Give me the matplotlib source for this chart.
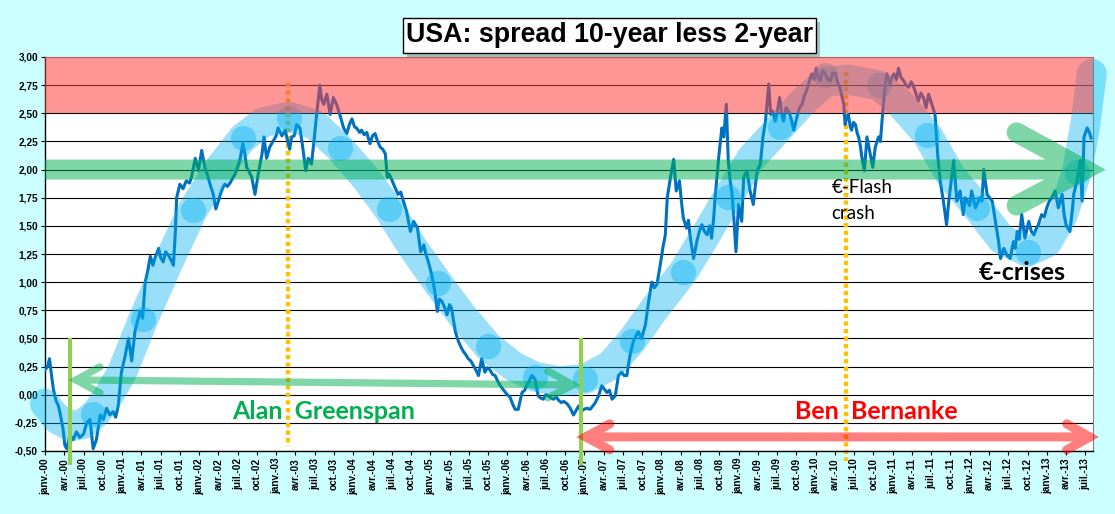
import matplotlib
matplotlib.use('Agg')
import matplotlib.pyplot as plt
from matplotlib.path import Path
from matplotlib.patches import PathPatch, Rectangle
from matplotlib.transforms import Bbox, TransformedBbox

# ---------------- data (x = months since janv. 2000) ----------------
spread_month = [
    0.0, 0.4, 0.7, 1.0, 1.3, 1.7, 2.1, 2.4, 2.8, 3.1, 3.4, 3.9, 4.4, 4.9, 5.4, 6.0, 6.5, 7.0, 7.5, 8.0,
    8.6, 9.1, 9.6, 10.1, 10.6, 11.0, 11.4, 11.9, 12.5, 13.0, 13.5, 14.0, 14.8, 15.2, 15.6, 16.0, 16.4,
    16.8, 17.1, 17.7, 18.0, 18.4, 18.8, 19.2, 19.6, 20.0, 20.3, 20.5, 21.0, 21.5, 22.0, 22.5, 22.8,
    23.4, 23.9, 24.4, 24.9, 25.3, 25.7, 26.2, 26.6, 27.0, 27.3, 27.7, 28.0, 28.4, 28.8, 29.2, 29.6,
    30.0, 30.4, 30.8, 31.1, 31.4, 31.8, 32.2, 32.7, 33.2, 33.8, 34.1, 34.5, 35.0, 35.6, 36.0, 36.3,
    36.9, 37.4, 38.1, 38.4, 38.8, 39.2, 39.7, 40.2, 40.6, 41.0, 41.5, 41.9, 42.3, 42.8, 43.1, 43.4,
    43.9, 44.4, 44.9, 45.4, 45.9, 46.5, 47.0, 47.4, 47.8, 48.2, 48.5, 49.0, 49.3, 49.7, 50.1, 50.6,
    51.0, 51.4, 51.8, 52.2, 52.6, 53.0, 53.3, 53.6, 54.0, 54.5, 55.0, 55.4, 55.8, 56.3, 56.9, 57.4,
    58.0, 58.5, 59.0, 59.3, 59.7, 60.2, 60.7, 61.1, 61.4, 61.8, 62.2, 62.6, 63.0, 63.3, 63.9, 64.4,
    64.8, 65.2, 65.6, 65.9, 66.3, 66.7, 67.1, 67.5, 68.0, 68.5, 68.9, 69.3, 69.7, 70.1, 70.5, 70.9,
    71.3, 71.7, 72.0, 72.4, 72.8, 73.2, 73.7, 74.0, 74.3, 74.7, 75.0, 75.4, 75.8, 76.3, 76.8, 77.2,
    77.6, 78.0, 78.4, 78.8, 79.2, 79.6, 80.0, 80.4, 80.8, 81.3, 81.8, 82.3, 82.7, 83.1, 83.5, 83.9,
    84.4, 84.9, 85.3, 85.7, 86.2, 86.7, 87.1, 87.5, 87.9, 88.3, 88.8, 89.3, 89.8, 90.2, 90.6, 91.1,
    91.6, 92.0, 92.4, 92.9, 93.5, 94.0, 94.5, 94.9, 95.3, 95.8, 96.2, 96.6, 96.9, 97.4, 97.9, 98.3,
    98.8, 99.1, 99.4, 99.9, 100.2, 100.5, 101.0, 101.5, 101.9, 102.3, 102.7, 103.1, 103.5, 103.8,
    104.1, 104.4, 104.9, 105.4, 105.7, 106.1, 106.4, 106.7, 107.0, 107.3, 107.6, 108.0, 108.5, 108.8,
    109.3, 109.8, 110.3, 110.6, 110.9, 111.4, 111.8, 112.2, 112.7, 113.0, 113.3, 113.7, 114.0, 114.4,
    114.7, 115.0, 115.4, 115.8, 116.2, 116.6, 116.9, 117.2, 117.5, 117.9, 118.2, 118.6, 119.0, 119.4,
    119.8, 120.1, 120.4, 120.7, 121.1, 121.5, 121.9, 122.3, 122.7, 123.1, 123.5, 123.8, 124.1, 124.4,
    124.6, 124.8, 125.1, 125.4, 125.6, 125.9, 126.2, 126.5, 126.7, 127.0, 127.2, 127.6, 128.0, 128.3,
    128.5, 128.9, 129.3, 129.8, 130.1, 130.3, 130.7, 131.1, 131.6, 131.9, 132.2, 132.6, 132.9, 133.3,
    133.7, 134.1, 134.5, 134.9, 135.3, 135.7, 136.0, 136.4, 136.8, 137.2, 137.6, 138.1, 138.6, 139.0,
    139.4, 139.9, 140.4, 140.7, 141.0, 141.5, 142.0, 142.5, 143.0, 143.3, 143.6, 144.0, 144.3, 144.9,
    145.2, 145.6, 145.9, 146.2, 146.7, 147.1, 147.5, 148.0, 148.5, 148.8, 149.3, 149.8, 150.3, 150.8,
    151.1, 151.4, 151.7, 152.1, 152.6, 153.2, 153.6, 154.0, 154.4, 154.7, 155.2, 155.6, 156.0, 156.4,
    156.8, 157.3, 157.8, 158.1, 158.4, 158.7, 159.0, 159.3, 159.6, 160.0, 160.2, 160.7, 161.2, 161.5,
    161.8, 162.3, 162.7, 162.9,
]
spread_value = [
    0.22, 0.25, 0.32, 0.18, 0.05, -0.05, -0.10, -0.18, -0.30, -0.45, -0.48, -0.36, -0.40, -0.33, -0.38, -0.35, -0.25, -0.22, -0.48, -0.40,
    -0.18, -0.22, -0.12, -0.18, -0.15, -0.20, -0.10, 0.20, 0.35, 0.50, 0.30, 0.56, 0.74, 0.68, 1.00, 1.10, 1.23,
    1.15, 1.21, 1.30, 1.22, 1.18, 1.27, 1.24, 1.20, 1.15, 1.45, 1.75, 1.87, 1.83, 1.90, 1.88, 1.93,
    2.10, 1.99, 2.17, 2.02, 1.95, 1.87, 1.78, 1.65, 1.72, 1.78, 1.84, 1.87, 1.85, 1.88, 1.92, 1.96,
    2.02, 2.10, 2.23, 2.15, 2.02, 1.98, 1.93, 1.78, 1.96, 2.14, 2.29, 2.10, 2.20, 2.26, 2.30, 2.37,
    2.30, 2.35, 2.18, 2.29, 2.30, 2.40, 2.37, 2.17, 1.99, 2.10, 2.05, 2.26, 2.49, 2.75, 2.62, 2.58,
    2.67, 2.49, 2.64, 2.58, 2.49, 2.37, 2.32, 2.40, 2.45, 2.38, 2.37, 2.33, 2.35, 2.31, 2.33, 2.23,
    2.30, 2.32, 2.25, 2.20, 2.18, 2.14, 1.93, 1.96, 1.91, 1.84, 1.78, 1.80, 1.72, 1.63, 1.45, 1.54,
    1.48, 1.27, 1.33, 1.25, 1.18, 1.07, 0.92, 0.74, 0.85, 0.83, 0.78, 0.71, 0.80, 0.77, 0.56, 0.47,
    0.42, 0.38, 0.35, 0.32, 0.30, 0.26, 0.22, 0.17, 0.32, 0.20, 0.24, 0.22, 0.18, 0.17, 0.12, 0.08,
    0.05, 0.02, 0.00, -0.02, -0.08, -0.13, -0.13, -0.05, 0.02, 0.04, 0.08, 0.12, 0.17, 0.14, -0.01, -0.03,
    -0.04, 0.00, -0.01, -0.03, -0.04, -0.02, -0.05, -0.07, -0.06, -0.08, -0.12, -0.18, -0.14, -0.10, -0.15, -0.13,
    -0.12, -0.13, -0.10, -0.07, -0.01, 0.08, 0.05, 0.02, 0.04, -0.04, -0.01, 0.17, 0.20, 0.17, 0.17, 0.35,
    0.47, 0.52, 0.56, 0.50, 0.62, 0.83, 1.00, 0.95, 0.98, 1.15, 1.30, 1.42, 1.75, 1.93, 2.09, 1.81,
    1.90, 1.72, 1.57, 1.48, 1.55, 1.39, 1.21, 1.36, 1.45, 1.51, 1.45, 1.42, 1.50, 1.39,
    1.55, 1.78, 2.10, 2.37, 2.29, 2.58, 2.08, 1.90, 1.78, 1.54, 1.27, 1.69, 1.54, 1.93,
    1.99, 1.81, 1.69, 1.85, 1.99, 2.05, 2.29, 2.43, 2.76, 2.49, 2.52, 2.43, 2.50, 2.64,
    2.50, 2.43, 2.55, 2.52, 2.45, 2.35, 2.42, 2.49, 2.55, 2.58, 2.65, 2.70, 2.78, 2.85,
    2.80, 2.90, 2.82, 2.79, 2.88, 2.85, 2.80, 2.79, 2.86, 2.85, 2.76, 2.73, 2.65, 2.58,
    2.40, 2.46, 2.49, 2.38, 2.35, 2.42, 2.40, 2.32, 2.29, 2.20, 2.11, 1.99, 2.29, 2.20,
    2.14, 2.02, 2.20, 2.29, 2.25, 2.40, 2.67, 2.85, 2.76, 2.82, 2.85, 2.80, 2.90, 2.82,
    2.79, 2.75, 2.73, 2.78, 2.73, 2.66, 2.61, 2.68, 2.64, 2.55, 2.67, 2.58, 2.49, 2.14,
    1.90, 1.72, 1.51, 1.70, 1.84, 2.08, 1.72, 1.81, 1.60, 1.75, 1.72, 1.68, 1.81, 1.66,
    1.70, 1.75, 1.72, 2.00, 1.78, 1.75, 1.72, 1.54, 1.36, 1.21, 1.30, 1.24, 1.21, 1.36,
    1.30, 1.45, 1.38, 1.60, 1.39, 1.54, 1.45, 1.42, 1.48, 1.51, 1.60, 1.58, 1.66, 1.72,
    1.75, 1.81, 1.66, 1.72, 1.78, 1.60, 1.51, 1.48, 1.45, 1.65, 1.78, 1.90, 2.08, 1.72,
    2.29, 2.37, 2.32, 2.28,
]

# hand-drawn "wave" trend band and its circles
wave_month = [0, 2, 4, 6, 8, 10, 12, 15.3, 19, 23, 27, 30.8, 34, 38, 42, 45.9, 50, 53.5, 57, 61.2,
              65, 69, 73, 76.3, 80, 84.1, 88, 91.4, 95, 99.4, 103, 106.4, 110, 114.5, 118, 121.5,
              125, 129.8, 133, 137.4, 141, 145.2, 149, 153, 156, 158.5, 160.7, 162, 163]
wave_value = [-0.08, -0.22, -0.28, -0.26, -0.16, 0.0, 0.2, 0.67, 1.15, 1.64, 2.0, 2.28, 2.42, 2.47,
              2.40, 2.19, 1.92, 1.65, 1.33, 0.99, 0.70, 0.43, 0.25, 0.16, 0.12, 0.14, 0.26, 0.48,
              0.77, 1.09, 1.43, 1.76, 2.10, 2.38, 2.60, 2.78, 2.80, 2.75, 2.60, 2.31, 1.95, 1.66,
              1.38, 1.27, 1.35, 1.60, 1.98, 2.40, 2.85]
circle_month = [7.5, 15.3, 23, 30.8, 38, 45.9, 53.5, 61.2, 69, 76.3, 84.1, 91.4, 99.4, 106.4,
                114.5, 121.5, 129.8, 137.4, 145.2, 153, 160.7]
circle_value = [-0.17, 0.67, 1.64, 2.28, 2.46, 2.19, 1.65, 0.99, 0.43, 0.16, 0.14, 0.48, 1.09, 1.76,
                2.38, 2.84, 2.75, 2.31, 1.66, 1.27, 1.98]

quarter_names = ['janv.', 'avr.', 'juil.', 'oct.']
years = list(range(2000, 2014))
tick_labels = [f"{q}-{y % 100:02d}" for y in years for q in quarter_names][:55]
tick_months = [3 * i for i in range(len(tick_labels))]
y_ticks = [-0.5 + 0.25 * i for i in range(15)]
y_labels = [f"{v:.2f}".replace('.', ',') for v in y_ticks]

title = "USA: spread 10-year less 2-year"

# ---------------- figure ----------------
W, H = 1115, 514
fig = plt.figure(figsize=(W / 100, H / 100), dpi=100, facecolor='#CCFFFF')
ax = fig.add_axes([45 / W, 1 - 451 / H, (1093 - 45) / W, (451 - 57) / H])
ax.set_facecolor('white')
ax.set_xlim(0, 163.2)
ax.set_ylim(-0.5, 3.0)

ax.set_yticks(y_ticks)
ax.set_yticklabels(y_labels)
ax.set_xticks(tick_months)
ax.set_xticklabels(tick_labels, rotation=90)
for lab in ax.get_xticklabels() + ax.get_yticklabels():
    lab.set_fontfamily('Liberation Sans')
    lab.set_fontweight('bold')
    lab.set_fontsize(7.2)
ax.tick_params(axis='both', direction='out', length=3, width=0.8, pad=2, colors='black')
ax.yaxis.grid(True, color='black', lw=0.8)
ax.set_axisbelow(True)
for s in ['left', 'bottom']:
    ax.spines[s].set_color('black')
    ax.spines[s].set_linewidth(1.0)
for s in ['top', 'right']:
    ax.spines[s].set_color('#808080')
    ax.spines[s].set_linewidth(0.8)

big_box = TransformedBbox(Bbox([[0, -0.3], [1.5, 1.3]]), ax.transAxes)


def stroke(segments, color, alpha, lw, z, cap='round'):
    verts, codes = [], []
    for seg in segments:
        verts += seg
        codes += [Path.MOVETO] + [Path.LINETO] * (len(seg) - 1)
    p = PathPatch(Path(verts, codes), fill=False, edgecolor=color, alpha=alpha, lw=lw,
                  capstyle=cap, joinstyle='miter', zorder=z)
    ax.add_patch(p)
    p.set_clip_path(None)
    p.set_clip_box(big_box)
    return p


# orange dotted vertical lines
for xm, y0, y1 in [(37.8, 2.77, -0.455), (124.7, 2.87, -0.59)]:
    ax.plot([xm, xm], [y0, y1], color='#FFC000', lw=3.2, dashes=(0.95, 0.75),
            solid_capstyle='butt', dash_capstyle='butt', zorder=2, clip_on=False)

# data line
ax.plot(spread_month, spread_value, color='#0070C0', lw=2.2, zorder=3, solid_joinstyle='round')

# wave band + circles
ax.plot(wave_month, wave_value, color='#00B0F0', alpha=0.4, lw=21.6,
        solid_capstyle='round', solid_joinstyle='round', zorder=4, clip_on=False)
ax.scatter(circle_month, circle_value, s=330, color='#00B0F0', alpha=0.4, lw=0, zorder=4.5)

# green horizontal band with open arrow head
stroke([[(0, 2.0), (161.9, 2.0)],
        [(151.3, 2.33), (161.9, 2.0), (151.3, 1.68)]],
       '#00B050', 0.5, 14.4, 5)

# red zone
ax.axhspan(2.5, 3.0, color=(1, 0.25, 0.25), alpha=0.55, lw=0, zorder=6)

# green vertical markers
for xm in [3.94, 83.4]:
    ax.plot([xm, xm], [0.5, -0.62], color='#92D050', lw=2.9, zorder=7,
            solid_capstyle='butt', clip_on=False)

# Greenspan double arrow
stroke([[(4.83, 0.131), (82.2, 0.087)],
        [(8.56, 0.247), (4.83, 0.131), (8.56, 0.016)],
        [(78.3, 0.211), (82.2, 0.087), (78.3, -0.028)]],
       '#00B050', 0.5, 5.2, 7)

# Bernanke double arrow
stroke([[(84.2, -0.375), (162.7, -0.375)],
        [(87.96, -0.259), (84.2, -0.375), (87.96, -0.49)],
        [(159.1, -0.259), (162.7, -0.375), (159.1, -0.49)]],
       '#FF0000', 0.5, 6.5, 7)

# annotations
ann_font = 'Lato'
ax.text(43.4, -0.15, 'Alan  Greenspan', color='#00B050', fontsize=18, fontweight='bold',
        family=ann_font, ha='center', va='center', zorder=8)
ax.text(129.5, -0.15, 'Ben  Bernanke', color='#FF0000', fontsize=18, fontweight='bold',
        family=ann_font, ha='center', va='center', zorder=8)
ax.text(122.5, 1.84, '€-Flash', color='black', fontsize=13.5, family=ann_font,
        ha='left', va='center', zorder=8)
ax.text(122.5, 1.61, 'crash', color='black', fontsize=13.5, family=ann_font,
        ha='left', va='center', zorder=8)
ax.text(152.1, 1.09, '€-crises', color='black', fontsize=18, fontweight='bold', family=ann_font,
        ha='center', va='center', zorder=8)

# title box with shadow
bx0, by0, bx1, by1 = 403, 18, 816, 53
fig.patches.append(Rectangle(((bx0 + 4) / W, 1 - (by1 + 4) / H), (bx1 - bx0) / W, (by1 - by0) / H,
                             transform=fig.transFigure, facecolor='#7F9F9F', alpha=0.6,
                             edgecolor='none', zorder=1))
fig.patches.append(Rectangle((bx0 / W, 1 - by1 / H), (bx1 - bx0) / W, (by1 - by0) / H,
                             transform=fig.transFigure, facecolor='white',
                             edgecolor='black', lw=1.0, zorder=2))
fig.text((bx0 + bx1) / 2 / W, 1 - (by0 + by1) / 2 / H, title, family='Liberation Sans',
         fontweight='bold', fontsize=19.3, ha='center', va='center', zorder=3)

fig.savefig('out.png', dpi=100, facecolor=fig.get_facecolor())
